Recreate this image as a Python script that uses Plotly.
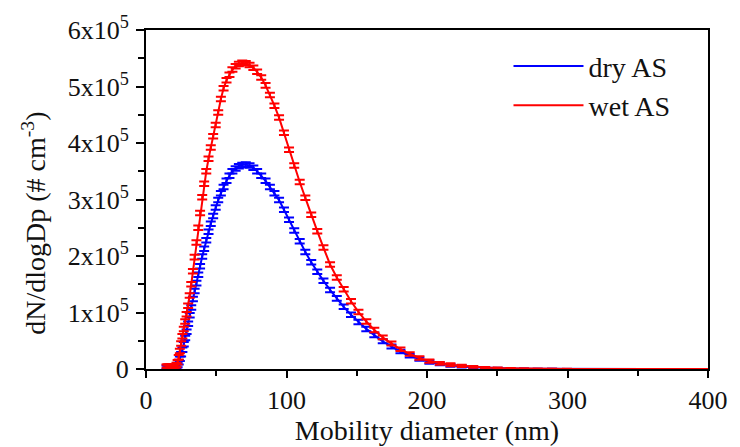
import plotly.graph_objects as go

# Mobility diameter bins (nm)
diameter_nm = [14.6, 15.1, 15.7, 16.3, 16.8, 17.5, 18.1, 18.8, 19.5, 20.2,
               20.9, 21.7, 22.5, 23.3, 24.1, 25.0, 25.9, 26.9, 27.9, 28.9,
               30.0, 31.1, 32.2, 33.4, 34.6, 35.9, 37.2, 38.5, 40.0, 41.4,
               42.9, 44.5, 46.1, 47.8, 49.6, 51.4, 53.3, 55.2, 57.3, 59.4,
               61.5, 63.8, 66.1, 68.5, 71.0, 73.7, 76.4, 79.1, 82.0, 85.1,
               88.2, 91.4, 94.7, 98.2, 101.8, 105.5, 109.4, 113.4, 117.6, 121.9,
               126.3, 131.0, 135.8, 140.7, 145.9, 151.2, 156.8, 162.5, 168.5, 174.7,
               181.1, 187.7, 194.6, 201.7, 209.1, 216.7, 224.7, 232.9, 241.4, 250.3,
               259.5, 269.0, 278.8, 289.0, 299.6, 310.6, 322.0, 333.8, 346.0, 358.7,
               371.8, 385.4, 399.5]

# dN/dlogDp (# cm^-3), dry ammonium sulfate
dry_as = [3000, 3000, 3000, 3000, 3000, 3000, 3000, 3000, 3000, 3000,
          3500, 4500, 7000, 12000, 18000, 26000, 34000, 44000, 55000, 66000,
          80000, 95000, 109000, 124000, 138000, 152000, 167000, 182000, 199000, 213000,
          228000, 243000, 257000, 271000, 286000, 299000, 311000, 322000, 333000, 342000,
          350000, 355000, 359000, 361000, 362000, 360000, 356000, 350000, 342000, 333000,
          322000, 311000, 299000, 282000, 264000, 245000, 226000, 207000, 189000, 172000,
          156000, 140000, 125000, 110000, 96000, 83000, 71000, 60000, 49000, 40000,
          31000, 23500, 17500, 12500, 9000, 6500, 4500, 3000, 2000, 1300,
          800, 500, 300, 200, 100, 80, 60, 50, 40, 30,
          20, 20, 10]

# dN/dlogDp (# cm^-3), wet ammonium sulfate
wet_as = [5000, 5000, 5000, 5000, 5000, 5000, 5000, 5000, 5000, 5000,
          5500, 7000, 12000, 21000, 32000, 45000, 58000, 71000, 84000, 97000,
          112000, 130000, 150000, 173000, 198000, 224000, 250000, 276000, 304000, 328000,
          350000, 372000, 392000, 412000, 432000, 454000, 478000, 497000, 511000, 521000,
          530000, 536000, 540000, 542000, 541000, 538000, 533000, 526000, 516000, 502000,
          485000, 466000, 445000, 418000, 388000, 360000, 331000, 303000, 273000, 244000,
          215000, 185000, 162000, 141000, 120000, 101000, 84000, 69000, 56000, 45000,
          35000, 26500, 19500, 14000, 10000, 7500, 5500, 3800, 2600, 1700,
          1100, 700, 450, 300, 200, 130, 90, 60, 40, 30,
          20, 20, 10]

# error bar half-heights (# cm^-3)
err_as = [3000, 3000, 3000, 3000, 3000, 3000, 3000, 3000, 3000, 3000,
          3000, 4000, 4000, 4000, 4000, 4000, 4000, 4000, 4000, 4000,
          4000, 4000, 4000, 4000, 4000, 4000, 4000, 4000, 4000, 4000,
          4000, 4000, 4000, 4000, 4000, 4000, 4000, 4000, 4000, 4000,
          4000, 4000, 4000, 4000, 4000, 4000, 4000, 4000, 4000, 4000,
          4000, 4000, 4000, 4000, 4000, 4000, 4000, 4000, 4000, 4000,
          4000, 4000, 4000, 4000, 4000, 4000, 4000, 4000, 3500, 3500,
          3000, 3000, 3000, 3000, 2500, 2500, 2000, 1500, 1000, 800,
          500, 300, 200, 100, 50, 30, 20, 10, 10, 10,
          10, 10, 10]

x_ticks = [0, 100, 200, 300, 400]
y_ticks = [0, 100000, 200000, 300000, 400000, 500000, 600000]
y_ticktext = ["0", "1x10<sup>5</sup>", "2x10<sup>5</sup>", "3x10<sup>5</sup>",
              "4x10<sup>5</sup>", "5x10<sup>5</sup>", "6x10<sup>5</sup>"]

FONT = "Liberation Serif"

fig = go.Figure()
fig.add_trace(go.Scatter(
    x=diameter_nm, y=dry_as, mode="lines", name="dry AS",
    line=dict(color="#0000ff", width=2),
    error_y=dict(type="data", array=err_as, color="#0000ff",
                 thickness=2, width=5),
))
fig.add_trace(go.Scatter(
    x=diameter_nm, y=wet_as, mode="lines", name="wet AS",
    line=dict(color="#ff0000", width=2),
    error_y=dict(type="data", array=err_as, color="#ff0000",
                 thickness=2, width=5),
))

fig.update_layout(
    width=740, height=447,
    margin=dict(l=146, r=24, t=29, b=78),
    paper_bgcolor="white", plot_bgcolor="white",
    font=dict(family=FONT, size=26, color="#111111"),
    showlegend=True,
    legend=dict(x=0.645, y=0.967, xanchor="left", yanchor="top",
                bgcolor="rgba(0,0,0,0)", borderwidth=0,
                font=dict(family=FONT, size=28, color="#111111"),
                itemwidth=70),
    xaxis=dict(range=[0, 400], tickmode="array", tickvals=x_ticks,
               showline=True, linewidth=2, linecolor="black", mirror=True,
               ticks="outside", ticklen=7, tickwidth=2, tickcolor="black",
               minor=dict(dtick=50, ticks="outside", ticklen=5, tickwidth=2,
                          tickcolor="black", showgrid=False),
               showgrid=False, zeroline=False,
               tickfont=dict(family=FONT, size=26),
               title=dict(text="Mobility diameter (nm)", standoff=0,
                          font=dict(family=FONT, size=28))),
    yaxis=dict(range=[0, 600000], tickmode="array", tickvals=y_ticks,
               ticktext=y_ticktext,
               showline=True, linewidth=2, linecolor="black", mirror=True,
               ticks="outside", ticklen=8, tickwidth=2, tickcolor="black",
               minor=dict(dtick=50000, ticks="outside", ticklen=6, tickwidth=2,
                          tickcolor="black", showgrid=False),
               showgrid=False, zeroline=False, ticklabelstandoff=2,
               tickfont=dict(family=FONT, size=26)),
    annotations=[dict(text="dN/dlogDp (# cm<sup>-3</sup>)", textangle=-90,
                      xref="paper", yref="paper", x=-0.199, y=0.429,
                      xanchor="center", yanchor="middle", showarrow=False,
                      font=dict(family=FONT, size=28, color="#111111"))],
)

fig.write_html("out.html",
               config={"displayModeBar": False},
               post_script="document.body.style.margin='0';document.body.style.padding='0';")
